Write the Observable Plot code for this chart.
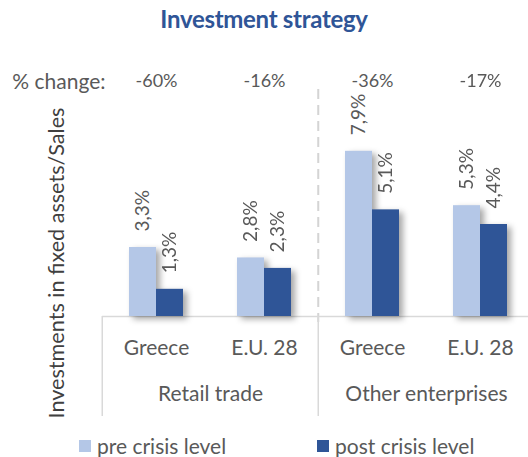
<!DOCTYPE html>
<html><head><meta charset="utf-8">
<script src="https://cdn.jsdelivr.net/npm/d3@7"></script>
<script src="https://cdn.jsdelivr.net/npm/@observablehq/plot@0.6"></script>
<style>
body{margin:0;background:#fff;}
#wrap{position:relative;width:528px;height:457px;overflow:hidden;font-family:Lato,sans-serif;color:#595959;}
#title{position:absolute;left:0;top:4px;width:528px;text-align:center;font-size:24px;font-weight:bold;color:#2f5597;letter-spacing:-0.3px;}
#chart{position:absolute;left:0;top:0;}
#ytitle{position:absolute;left:56px;top:263px;transform:translate(-50%,-50%) rotate(-90deg);white-space:nowrap;font-size:21.6px;color:#404040;}
.li{position:absolute;top:435px;height:22px;display:flex;align-items:center;font-size:21px;line-height:22px;color:#595959;white-space:nowrap;}
.li .sw{display:inline-block;width:12px;height:12px;margin-right:6px;}
#chart svg g[aria-label="bar"]{filter:drop-shadow(4px 3px 3px rgba(0,0,0,0.35));}
</style></head>
<body>
<div id="wrap">
  <div id="chart"></div>
  <div id="title">Investment strategy</div>
  <div id="ytitle">Investments in fixed assets/Sales</div>
  <div id="legend"></div>
</div>
<script>
const groups = ["Retail trade", "Other enterprises"];
const countries = ["Greece", "E.U. 28"];
const seriesNames = ["pre crisis level", "post crisis level"];
const seriesColors = ["#b4c7e7", "#2f5597"];
const preCrisis = [3.3, 2.8, 7.9, 5.3];
const postCrisis = [1.3, 2.3, 5.1, 4.4];
const pctChange = ["-60%", "-16%", "-36%", "-17%"];
const changeLabel = "% change:";

const keys = groups.flatMap(g => countries.map(c => g + "|" + c));
const barData = keys.flatMap((k, i) => [
  {key: k, series: seriesNames[0], value: preCrisis[i]},
  {key: k, series: seriesNames[1], value: postCrisis[i]}
]);
const catData = keys.map(k => ({key: k, country: k.split("|")[1]}));
const changeData = keys.map((k, i) => ({key: k, change: pctChange[i]}));
const groupData = groups.map(g => ({key: g + "|" + countries[1], label: g}));
const sepData = groups.map(g => ({key: g + "|" + countries[0]}));
const dashedData = [{key: groups[1] + "|" + countries[0]}];
const fmt = v => v.toFixed(1).replace(".", ",") + "%";

const plot = Plot.plot({
  width: 528, height: 430,
  marginTop: 95, marginBottom: 114, marginLeft: 101, marginRight: 0,
  style: {fontFamily: "Lato, sans-serif", color: "#595959", overflow: "visible", background: "transparent"},
  fx: {domain: keys, range: [101, 535], padding: 0, axis: null},
  x: {domain: seriesNames, paddingInner: 0, paddingOuter: 0.94, axis: null},
  y: {domain: [0, 10.57], axis: null},
  color: {domain: seriesNames, range: seriesColors},
  marks: [
    Plot.ruleX(dashedData, {fx: "key", x: null, dx: -54.25, insetTop: -6, insetBottom: -6, stroke: "#d4d4d4", strokeWidth: 2, strokeDasharray: "10,6"}),
    Plot.ruleX(sepData, {fx: "key", x: null, y1: () => 0, dx: -54.25, insetBottom: -100, stroke: "#d9d9d9", strokeWidth: 1.5}),
    Plot.ruleY([0], {stroke: "#d9d9d9", strokeWidth: 1.5}),
    Plot.barY(barData, {fx: "key", x: "series", y: "value", fill: "series"}),
    Plot.text(barData, {fx: "key", x: "series", y: "value", text: d => fmt(d.value), rotate: -90, textAnchor: "start", dy: -16, fontSize: 19, fill: "#595959"}),
    Plot.text(changeData, {fx: "key", frameAnchor: "top", dy: -21, text: "change", fontSize: 18, fill: "#595959"}),
    Plot.text([changeLabel], {fx: () => keys[0], frameAnchor: "top-left", textAnchor: "end", dy: -21, dx: 3, text: d => d, fontSize: 21, fill: "#595959"}),
    Plot.text(catData, {fx: "key", frameAnchor: "bottom", dy: 38, text: "country", fontSize: 21, fill: "#595959"}),
    Plot.text(groupData, {fx: "key", frameAnchor: "bottom-left", textAnchor: "middle", dy: 84, text: "label", fontSize: 21, fill: "#595959"})
  ]
});
document.getElementById("chart").appendChild(plot);

// legend built from the same series arrays / colour scale
const colorScale = plot.scale("color");
const legendLefts = [79, 317];
const legend = document.getElementById("legend");
seriesNames.forEach((name, i) => {
  const item = document.createElement("div");
  item.className = "li";
  item.style.left = legendLefts[i] + "px";
  const sw = document.createElement("span");
  sw.className = "sw";
  sw.style.background = colorScale.range[colorScale.domain.indexOf(name)];
  item.appendChild(sw);
  item.appendChild(document.createTextNode(name));
  legend.appendChild(item);
});
</script>
</body></html>
